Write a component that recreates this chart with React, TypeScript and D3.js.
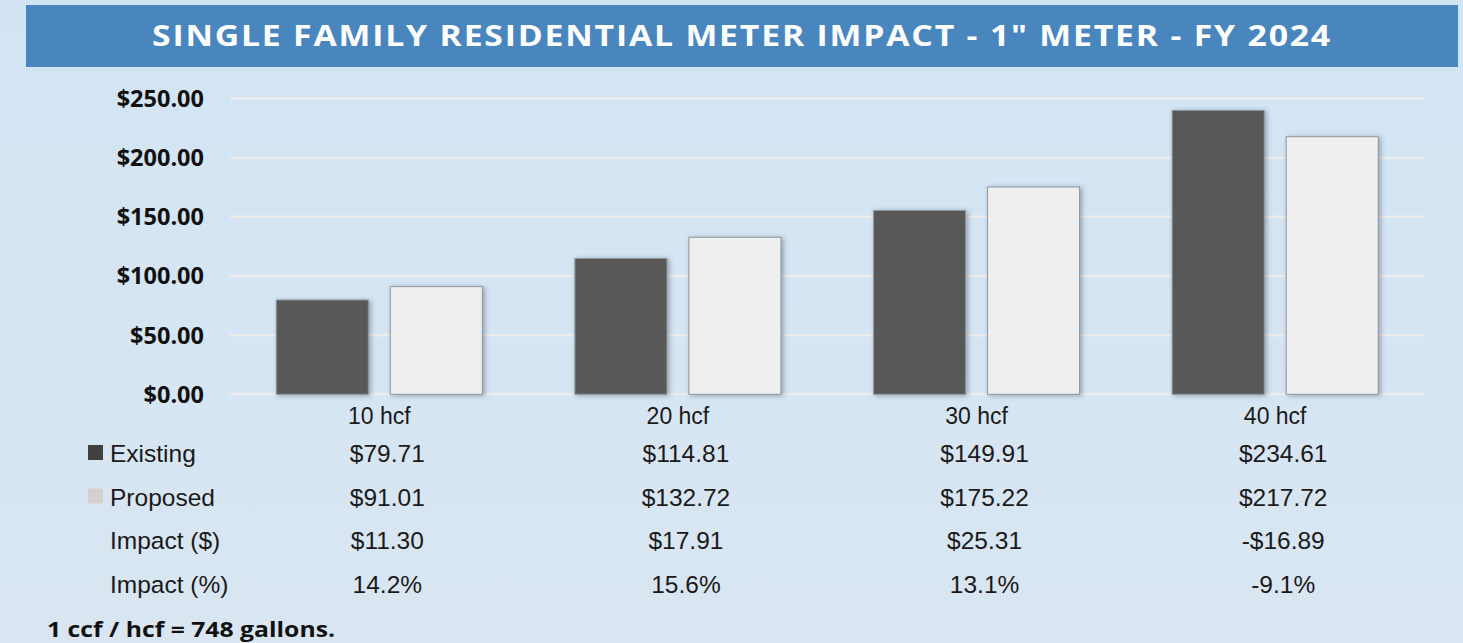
import * as d3 from "d3";
import React from "react";

const W = 1463;
const H = 643;

const categories = ["10 hcf", "20 hcf", "30 hcf", "40 hcf"];
const series = ["Existing", "Proposed"];
// bar heights as drawn in the chart
const existingBars = [79.71, 114.81, 155.4, 239.9];
const proposedBars = [91.01, 132.72, 175.22, 217.72];
const yTicks = [0, 50, 100, 150, 200, 250];

// data table under the chart
const existingLabels = ["$79.71", "$114.81", "$149.91", "$234.61"];
const proposedLabels = ["$91.01", "$132.72", "$175.22", "$217.72"];
const impactDollarLabels = ["$11.30", "$17.91", "$25.31", "-$16.89"];
const impactPctLabels = ["14.2%", "15.6%", "13.1%", "-9.1%"];

const colors: Record<string, string> = { Existing: "#595959", Proposed: "#efefef" };
const legendColors: Record<string, string> = { Existing: "#404040", Proposed: "#d4d0d0" };

const plot = { left: 230, right: 1424.5, top: 98.5, bottom: 394.3 };

export default function App() {
  const x = d3.scaleBand().domain(categories).range([plot.left, plot.right]).padding(0);
  const x1 = d3
    .scaleBand()
    .domain(series)
    .range([0, x.bandwidth()])
    .paddingInner(0.193)
    .paddingOuter(0.406);
  const y = d3.scaleLinear().domain([0, 250]).range([plot.bottom, plot.top]);
  const fmt = d3.format("$,.2f");

  const rows = [
    { name: "Existing", labels: existingLabels, legend: true, baseline: 462 },
    { name: "Proposed", labels: proposedLabels, legend: true, baseline: 505.5 },
    { name: "Impact ($)", labels: impactDollarLabels, legend: false, baseline: 549 },
    { name: "Impact (%)", labels: impactPctLabels, legend: false, baseline: 593 },
  ];

  const barData = categories.flatMap((c, i) => [
    { cat: c, s: "Existing", v: existingBars[i] },
    { cat: c, s: "Proposed", v: proposedBars[i] },
  ]);

  return (
    <svg width={W} height={H} style={{ display: "block", position: "absolute", left: 0, top: 0 }}>
      <defs>
        <linearGradient id="bg" x1="0" y1="0" x2="0" y2="1">
          <stop offset="0" stopColor="#d2e4f4" />
          <stop offset="1" stopColor="#d9e6f2" />
        </linearGradient>
        <filter id="shadow" x="-20%" y="-20%" width="140%" height="140%">
          <feDropShadow dx="2" dy="1" stdDeviation="2.5" floodColor="#3d4a5a" floodOpacity="0.45" />
        </filter>
      </defs>
      <rect x={0} y={0} width={W} height={H} fill="url(#bg)" />

      {/* title band */}
      <rect x={26} y={5} width={1432} height={62} fill="#4a86be" />
      <text
        x={742}
        y={46}
        textAnchor="middle"
        fill="#ffffff"
        fontFamily="'Open Sans', sans-serif"
        fontWeight={700}
        fontSize={28}
        letterSpacing={1.5}
        textLength={1180}
        lengthAdjust="spacingAndGlyphs"
      >
        {'SINGLE FAMILY RESIDENTIAL METER IMPACT - 1" METER - FY 2024'}
      </text>

      {/* gridlines */}
      {yTicks.map((t) => (
        <line
          key={t}
          x1={plot.left}
          x2={plot.right}
          y1={y(t)}
          y2={y(t)}
          stroke="#ececec"
          strokeWidth={2.5}
        />
      ))}

      {/* y axis labels */}
      {yTicks.map((t) => (
        <text
          key={"l" + t}
          x={204}
          y={y(t)}
          dy="0.36em"
          textAnchor="end"
          fill="#111"
          fontFamily="'Open Sans', sans-serif"
          fontWeight={700}
          fontSize={23.5}
        >
          {fmt(t)}
        </text>
      ))}

      {/* bars */}
      <g filter="url(#shadow)">
        {barData.map((d) => (
          <rect
            key={d.cat + d.s}
            x={(x(d.cat) as number) + (x1(d.s) as number)}
            y={y(d.v)}
            width={x1.bandwidth()}
            height={y(0) - y(d.v)}
            fill={colors[d.s]}
            stroke="#8f959d"
            strokeWidth={1}
          />
        ))}
      </g>

      {/* category labels */}
      {categories.map((c) => (
        <text
          key={c}
          x={(x(c) as number) + x.bandwidth() / 2}
          y={424}
          textAnchor="middle"
          fill="#1a1a1a"
          fontFamily="'Liberation Sans', Arial, sans-serif"
          fontSize={23}
        >
          {c}
        </text>
      ))}

      {/* data table */}
      {rows.map((r) => (
        <g key={r.name}>
          {r.legend && (
            <rect x={88} y={r.baseline - 17} width={15} height={15} fill={legendColors[r.name]} />
          )}
          <text
            x={110}
            y={r.baseline}
            fill="#1a1a1a"
            fontFamily="'Liberation Sans', Arial, sans-serif"
            fontSize={24.5}
          >
            {r.name}
          </text>
          {r.labels.map((l, i) => (
            <text
              key={l}
              x={(x(categories[i]) as number) + x.bandwidth() / 2 + 8}
              y={r.baseline}
              textAnchor="middle"
              fill="#1a1a1a"
              fontFamily="'Liberation Sans', Arial, sans-serif"
              fontSize={24.5}
            >
              {l}
            </text>
          ))}
        </g>
      ))}

      {/* footnote */}
      <text
        x={47}
        y={636.5}
        fill="#111"
        fontFamily="'Open Sans', sans-serif"
        fontWeight={700}
        fontSize={21}
        textLength={288}
        lengthAdjust="spacingAndGlyphs"
      >
        1 ccf / hcf = 748 gallons.
      </text>
    </svg>
  );
}
